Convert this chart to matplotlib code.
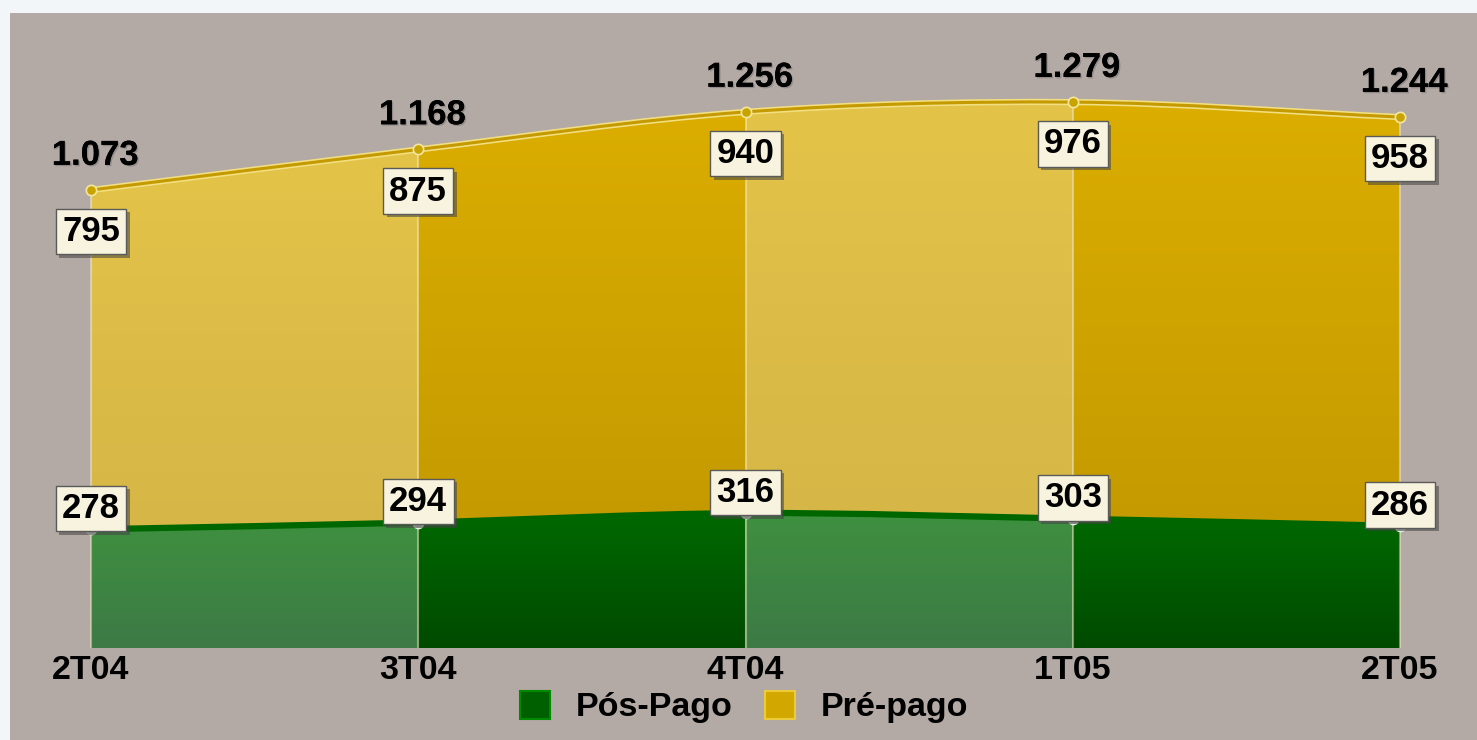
import matplotlib
matplotlib.use("Agg")
import matplotlib.pyplot as plt
import matplotlib.patheffects as pe
import numpy as np
from matplotlib.path import Path
from matplotlib.patches import PathPatch, Rectangle, Patch
from matplotlib.colors import LinearSegmentedColormap

quarters = ["2T04", "3T04", "4T04", "1T05", "2T05"]
pos_pago = [278, 294, 316, 303, 286]
pre_pago = [795, 875, 940, 976, 958]
total = [1073, 1168, 1256, 1279, 1244]
total_labels = ["1.073", "1.168", "1.256", "1.279", "1.244"]

FONT = ["Liberation Sans", "DejaVu Sans"]
PANEL = "#b3a9a5"

# light / dark shading alternates between quarters
gold_light = ("#e4c448", "#d6b646")
gold_dark = ("#dcae00", "#c49a00")
green_light = ("#3f923f", "#3d7a46")
green_dark = ("#006c00", "#004a00")


def tangents(y):
    y = np.asarray(y, float)
    m = np.empty_like(y)
    m[1:-1] = (y[2:] - y[:-2]) / 2
    m[0] = y[1] - y[0]
    m[-1] = y[-1] - y[-2]
    return m


def curve_pts(y, i):
    m = tangents(y)
    return [(i, y[i]), (i + 1 / 3, y[i] + m[i] / 3),
            (i + 2 / 3, y[i + 1] - m[i + 1] / 3), (i + 1, y[i + 1])]


def full_curve(y):
    verts = [(0, y[0])]
    codes = [Path.MOVETO]
    for i in range(len(y) - 1):
        verts += curve_pts(y, i)[1:]
        codes += [Path.CURVE4] * 3
    return Path(verts, codes)


def band(lower, upper, i):
    up = curve_pts(upper, i)
    lo = curve_pts(lower, i)[::-1]
    verts = up + lo + [up[0]]
    codes = ([Path.MOVETO] + [Path.CURVE4] * 3 + [Path.LINETO]
             + [Path.CURVE4] * 3 + [Path.CLOSEPOLY])
    return Path(verts, codes)


fig = plt.figure(figsize=(14.77, 7.40), dpi=100, facecolor="#f3f6f8")
fig.patches.append(Rectangle((10 / 1477, 0), 1467 / 1477, 727 / 740,
                             transform=fig.transFigure, facecolor=PANEL,
                             edgecolor="none", zorder=-5))
ax = fig.add_axes([10 / 1477, 92 / 740, 1467 / 1477, 635 / 740], zorder=2)
ax.set_facecolor("none")

x = np.arange(len(quarters))
zeros = [0] * len(quarters)

for i in range(len(quarters) - 1):
    light = i % 2 == 0
    for lower, upper, cols in ((zeros, pos_pago, green_light if light else green_dark),
                               (pos_pago, total, gold_light if light else gold_dark)):
        path = band(lower, upper, i)
        clip = PathPatch(path, facecolor="none", edgecolor="none")
        ax.add_patch(clip)
        lo = min(lower[i], lower[i + 1])
        hi = max(upper[i], upper[i + 1]) + 30
        cmap = LinearSegmentedColormap.from_list("g", [cols[1], cols[0]])
        grad = np.linspace(0, 1, 256).reshape(-1, 1)
        im = ax.imshow(grad, extent=[i, i + 1, lo, hi], origin="lower",
                       aspect="auto", cmap=cmap, interpolation="bilinear", zorder=1)
        im.set_clip_path(clip)

# thin light separators at each quarter
ax.vlines(x, 0, total, colors="#fff6c8", alpha=0.45, lw=1.5, zorder=2)

# series edges
ax.add_patch(PathPatch(full_curve(pos_pago), facecolor="none",
                       edgecolor="#006600", lw=4.5, zorder=3))
ax.add_patch(PathPatch(full_curve(total), facecolor="none",
                       edgecolor="#f2df80", lw=4.5, zorder=3))
ax.add_patch(PathPatch(full_curve(total), facecolor="none",
                       edgecolor="#c49a00", lw=2.2, zorder=3))
ax.scatter(x, total, s=55, color="#c9a400", edgecolor="#f3e7a0", lw=1.2, zorder=4)
ax.scatter(x, pos_pago, s=55, color="#c8d8cc", edgecolor="#e8efe8", lw=1, zorder=4)

shadow = [pe.withSimplePatchShadow(offset=(2.5, -2.5), shadow_rgbFace="#444444", alpha=0.55)]
txt_shadow = [pe.withSimplePatchShadow(offset=(1, -1), shadow_rgbFace="#555555", alpha=0.35), pe.Normal()]
box = dict(boxstyle="square,pad=0.18", fc="#f8f3df", ec="#5a5a5a", lw=1)

for xi, v in zip(x, pre_pago):
    t = ax.annotate(str(v), (xi, total[xi]), xytext=(0, -30), textcoords="offset points",
                    ha="center", va="center", fontsize=25, fontweight="bold",
                    family=FONT, bbox=box, zorder=5)
    t.get_bbox_patch().set_path_effects(shadow)

for xi, v in zip(x, pos_pago):
    t = ax.annotate(str(v), (xi, v), xytext=(0, 15), textcoords="offset points",
                    ha="center", va="center", fontsize=25, fontweight="bold",
                    family=FONT, bbox=box, zorder=5)
    t.get_bbox_patch().set_path_effects(shadow)

for xi, v, lab in zip(x, total, total_labels):
    ax.annotate(lab, (xi, v), xytext=(3, 25), textcoords="offset points",
                ha="center", va="center", fontsize=25, fontweight="bold",
                family=FONT, path_effects=txt_shadow, zorder=5)

ax.set_xlim((10 - 91) / 327.25, (1477 - 91) / 327.25)
ax.set_ylim(0, 635 / 0.4268)
ax.set_xticks(x, quarters, fontsize=24.5, fontweight="bold", family=FONT)
ax.tick_params(axis="x", length=0, pad=5)
ax.set_yticks([])
for s in ax.spines.values():
    s.set_visible(False)

handles = [Patch(facecolor="#006000", edgecolor="#008a00", lw=1.5, label="Pós-Pago"),
           Patch(facecolor="#d2a800", edgecolor="#eccb3a", lw=1.5, label="Pré-pago")]
leg = fig.legend(handles=handles, loc="center", bbox_to_anchor=(744 / 1477, 1 - 707 / 740),
                 ncol=2, frameon=False, prop=dict(family=FONT, weight="bold", size=24.5),
                 handlelength=0.9, handleheight=0.9, handletextpad=0.75,
                 columnspacing=0.95)

fig.savefig("out.png", dpi=100, facecolor=fig.get_facecolor())
